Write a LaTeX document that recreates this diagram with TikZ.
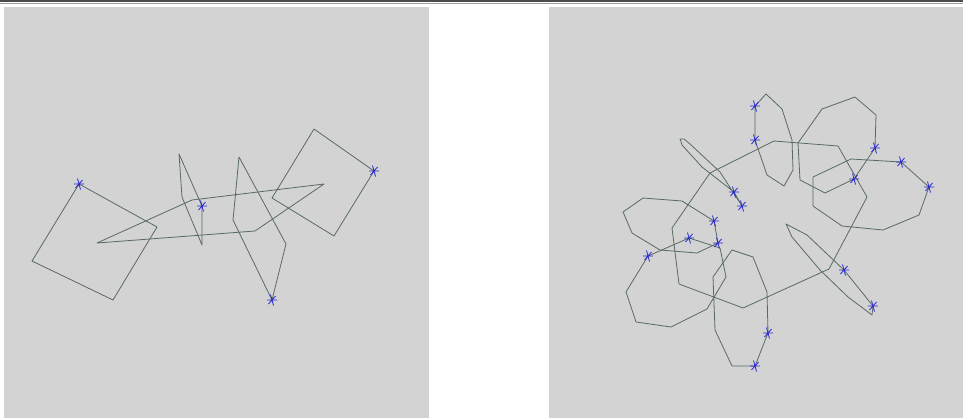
\documentclass[tikz,border=0pt]{standalone}
\usepackage{tikz}

\definecolor{panelgray}{RGB}{211,211,211}
\definecolor{edgegreen}{RGB}{88,106,102}
\definecolor{starblue}{RGB}{40,40,205}

\begin{document}
\begin{tikzpicture}[
    x=1pt, y=-1pt,
    panel/.style={fill=panelgray, draw=none},
    outline/.style={draw=edgegreen, line width=0.8pt, line join=round},
    starmark/.pic={\draw[starblue, line width=0.8pt] (-5,0) -- (5,0) (-1.5,-5.5) -- (1.5,5.5) (3.5,-4) -- (-3.5,4);}
]
\useasboundingbox (0,0) rectangle (963,418);
% frame line and the two panels
\draw[gray!60!black, line width=1.8pt] (0,1.2) -- (963,1.2);
\draw[gray!75, line width=1pt] (0,3) -- (963,3);
\fill[panel] (4,7) rectangle (429,418);
\fill[panel] (549,7) rectangle (963,418);

% left panel
\draw[outline] (79,184) -- (157,227) -- (113,300) -- (32,261) -- cycle;
\draw[outline] (374,171) -- (334,236) -- (272,198) -- (314,129) -- cycle;
\draw[outline] (97,243) -- (192,200) -- (324,184) -- (255,231) -- cycle;
\draw[outline] (202,206) -- (202,245) -- (182,197) -- (179,154) -- cycle;
\draw[outline] (272,300) -- (286,244) -- (239,157) -- (234,210) -- (233,220) -- cycle;

% right panel
\draw[outline] (710,173) -- (774,141) -- (838,146) -- (867,197) -- (829,269)
    -- (743,308) -- (679,284) -- (672,228) -- cycle;
\draw[outline] (755,106) -- (755,140) -- (767,175) -- (784,186) -- (793,170)
    -- (792,140) -- (782,109) -- (766,94) -- cycle;
\draw[outline] (875,148) -- (854,179) -- (825,193) -- (800,180) -- (798,143)
    -- (822,109) -- (855,97) -- (876,115) -- cycle;
\draw[outline] (901,162) -- (929,187) -- (919,215) -- (883,230) -- (842,226)
    -- (813,206) -- (813,177) -- (851,159) -- cycle;
\draw[outline] (734,192) -- (742,206) -- (720,172) -- (690,144) -- (684,139)
    -- (680,139) -- (682,145) -- (702,167) -- cycle;
\draw[outline] (714,221) -- (718,243) -- (697,253) -- (660,250) -- (632,233)
    -- (623,212) -- (643,198) -- (682,201) -- cycle;
\draw[outline] (648,256) -- (689,238) -- (720,248) -- (726,277) -- (707,309)
    -- (671,327) -- (636,322) -- (626,292) -- cycle;
\draw[outline] (768,333) -- (755,366) -- (732,366) -- (715,330) -- (713,277)
    -- (732,250) -- (753,257) -- (767,292) -- cycle;
\draw[outline] (844,270) -- (873,306) -- (872,315) -- (848,297) -- (820,270)
    -- (792,237) -- (786,224) -- (807,235) -- cycle;

% markers
\foreach \px/\py in {79/184, 202/206, 374/171, 272/300,
    755/106, 755/140, 875/148, 854/179, 901/162, 929/187, 734/192, 742/206,
    714/221, 718/243, 648/256, 689/238, 768/333, 755/366, 844/270, 873/306}
  \pic at (\px,\py) {starmark};
\end{tikzpicture}
\end{document}
